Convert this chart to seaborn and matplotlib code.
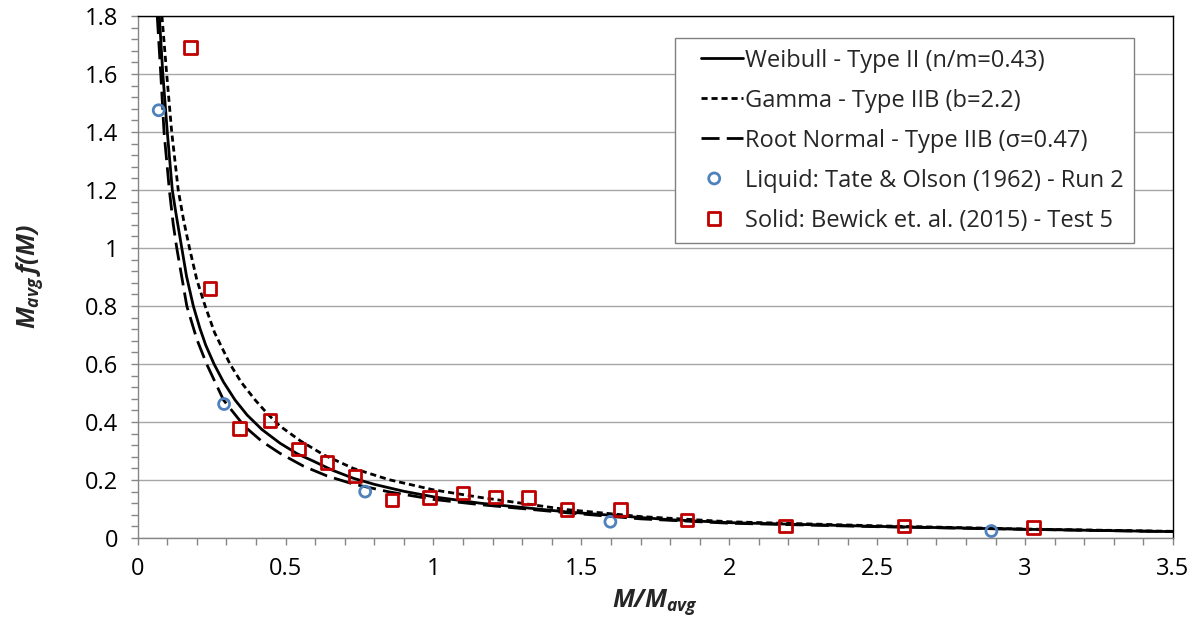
import matplotlib
matplotlib.use("Agg")
import matplotlib.pyplot as plt
from matplotlib.lines import Line2D
from matplotlib.legend_handler import HandlerLine2D
import numpy as np
import seaborn as sns
import pandas as pd

# ---- data ----
weibull_x = [0.073, 0.085, 0.100, 0.117, 0.130, 0.149, 0.165, 0.188, 0.210, 0.230, 0.258, 0.290, 0.329,
             0.370, 0.420, 0.481, 0.540, 0.594, 0.660, 0.729, 0.800, 0.900, 1.0, 1.158, 1.45, 1.8, 2.0,
             2.5, 3.0, 3.5]
weibull_y = [1.80, 1.60, 1.40, 1.20, 1.115, 1.00, 0.903, 0.80, 0.724, 0.665, 0.60, 0.538, 0.476,
             0.424, 0.374, 0.327, 0.290, 0.265, 0.233, 0.206, 0.185, 0.161, 0.142, 0.120, 0.090, 0.063, 0.053,
             0.040, 0.030, 0.022]

gamma_x = [0.082, 0.098, 0.115, 0.137, 0.155, 0.175, 0.200, 0.228, 0.260, 0.312, 0.350, 0.397, 0.440,
           0.481, 0.550, 0.630, 0.729, 0.850, 1.0, 1.158, 1.45, 1.7, 2.0, 2.5, 3.0, 3.5]
gamma_y = [1.80, 1.60, 1.40, 1.20, 1.097, 1.00, 0.890, 0.80, 0.708, 0.60, 0.537, 0.476, 0.427,
           0.386, 0.335, 0.286, 0.240, 0.201, 0.166, 0.140, 0.098, 0.074, 0.056, 0.042, 0.031, 0.023]

rootnormal_x = [0.066, 0.078, 0.089, 0.107, 0.120, 0.132, 0.166, 0.200, 0.233, 0.290, 0.360, 0.420,
                0.481, 0.560, 0.640, 0.729, 0.850, 1.0, 1.158, 1.45, 1.7, 2.0, 2.5, 3.0, 3.5]
rootnormal_y = [1.80, 1.60, 1.40, 1.20, 1.083, 1.00, 0.80, 0.685, 0.60, 0.476, 0.386, 0.333,
                0.292, 0.248, 0.214, 0.186, 0.159, 0.133, 0.115, 0.087, 0.066, 0.051, 0.039, 0.030, 0.022]

liquid_x = [0.071, 0.292, 0.769, 1.598, 2.886]
liquid_y = [1.475, 0.462, 0.160, 0.056, 0.024]

solid_x = [0.179, 0.245, 0.344, 0.448, 0.543, 0.639, 0.735, 0.859, 0.987, 1.099, 1.209, 1.321, 1.451, 1.632, 1.857, 2.190, 2.590, 3.028]
solid_y = [1.692, 0.861, 0.378, 0.405, 0.306, 0.260, 0.214, 0.131, 0.140, 0.156, 0.142, 0.140, 0.099, 0.099, 0.062, 0.041, 0.041, 0.036]

x_ticks = [0, 0.5, 1, 1.5, 2, 2.5, 3, 3.5]
x_tick_labels = ["0", "0.5", "1", "1.5", "2", "2.5", "3", "3.5"]
y_ticks = [0, 0.2, 0.4, 0.6, 0.8, 1.0, 1.2, 1.4, 1.6, 1.8]
y_tick_labels = ["0", "0.2", "0.4", "0.6", "0.8", "1", "1.2", "1.4", "1.6", "1.8"]

labels = ["Weibull - Type II (n/m=0.43)",
          "Gamma - Type IIB (b=2.2)",
          "Root Normal - Type IIB (\u03c3=0.47)",
          "Liquid: Tate & Olson (1962) - Run 2",
          "Solid: Bewick et. al. (2015) - Test 5"]

# ---- styling ----
sns.set_theme(style="white")
plt.rcParams['font.family'] = ['Open Sans', 'DejaVu Sans']
plt.rcParams['mathtext.fontset'] = 'custom'
plt.rcParams['mathtext.rm'] = 'Open Sans:bold:italic'
plt.rcParams['mathtext.it'] = 'Open Sans:bold:italic'
plt.rcParams['mathtext.bf'] = 'Open Sans:bold:italic'

fig = plt.figure(figsize=(12, 6.3), dpi=100)
ax = fig.add_axes([137.7 / 1200, 92 / 630, (1173 - 137.7) / 1200, 522 / 630])

lw = 2.0
sns.lineplot(x=weibull_x, y=weibull_y, ax=ax, color="black", lw=lw,
             label=labels[0], estimator=None)
sns.lineplot(x=gamma_x, y=gamma_y, ax=ax, color="black", lw=lw,
             linestyle=(0, (2.2, 1.4)), label=labels[1], estimator=None)
sns.lineplot(x=rootnormal_x, y=rootnormal_y, ax=ax, color="black", lw=lw,
             linestyle=(0, (6.5, 2.6)), label=labels[2], estimator=None)

sns.scatterplot(x=liquid_x, y=liquid_y, ax=ax, marker="o", s=62,
                facecolor="none", edgecolor="#4F81BD", linewidth=2.0,
                label=labels[3], zorder=4)
sns.scatterplot(x=solid_x, y=solid_y, ax=ax, marker="s", s=80,
                facecolor="none", edgecolor="#C00000", linewidth=2.0,
                label=labels[4], zorder=5)

ax.set_xlim(0, 3.5)
ax.set_ylim(0, 1.8)
ax.set_xticks(x_ticks)
ax.set_xticklabels(x_tick_labels)
ax.set_yticks(y_ticks)
ax.set_yticklabels(y_tick_labels)
ax.set_xticks([i / 10 for i in range(0, 36)], minor=True)
ax.set_yticks([i * 0.04 for i in range(0, 46)], minor=True)

ax.grid(axis="y", which="major", color="#A6A6A6", lw=1.0)
ax.grid(axis="x", visible=False)
ax.set_axisbelow(True)

ax.tick_params(axis="both", which="both", direction="out", color="#868686",
               length=5, width=1.0, labelsize=17, labelcolor="black")
ax.tick_params(axis="x", which="both", bottom=True, pad=9)
ax.tick_params(axis="y", which="both", left=True, pad=9)

for side in ["left", "bottom"]:
    ax.spines[side].set_color("#868686")
    ax.spines[side].set_linewidth(1.0)
for side in ["top", "right"]:
    ax.spines[side].set_color("black")
    ax.spines[side].set_linewidth(1.0)
    ax.spines[side].set_visible(True)

ax.set_xlabel(r"$M/M_{avg}$", fontsize=18, labelpad=4)
ax.set_ylabel(r"$M_{avg}\,f(M)$", fontsize=18, labelpad=29)


class RightLineHandler(HandlerLine2D):
    """Draw the legend line sample only on the right part of the handle box."""
    def create_artists(self, legend, orig_handle, xdescent, ydescent,
                       width, height, fontsize, trans):
        artists = super().create_artists(legend, orig_handle, xdescent, ydescent,
                                         width, height, fontsize, trans)
        for a in artists:
            xd = np.asarray(a.get_xdata(), dtype=float)
            if len(xd) >= 2:
                x0, x1 = xd[0], xd[-1]
                a.set_xdata(np.linspace(x0 + 0.27 * (x1 - x0), x1, len(xd)))
        return artists


handles, labs = ax.get_legend_handles_labels()
hmap = {h: RightLineHandler() for h in handles if isinstance(h, Line2D)}
leg = ax.legend(handles, labs, loc="upper right", bbox_to_anchor=(0.9625, 0.958),
                borderaxespad=0,
                frameon=True, fancybox=False, edgecolor="#808080", framealpha=1,
                fontsize=17, handlelength=2.4, handletextpad=0.1,
                labelspacing=0.68, borderpad=0.45, scatteryoffsets=[0.5],
                handler_map=hmap)
leg.get_frame().set_linewidth(1.0)

fig.savefig("out.png", dpi=100)
